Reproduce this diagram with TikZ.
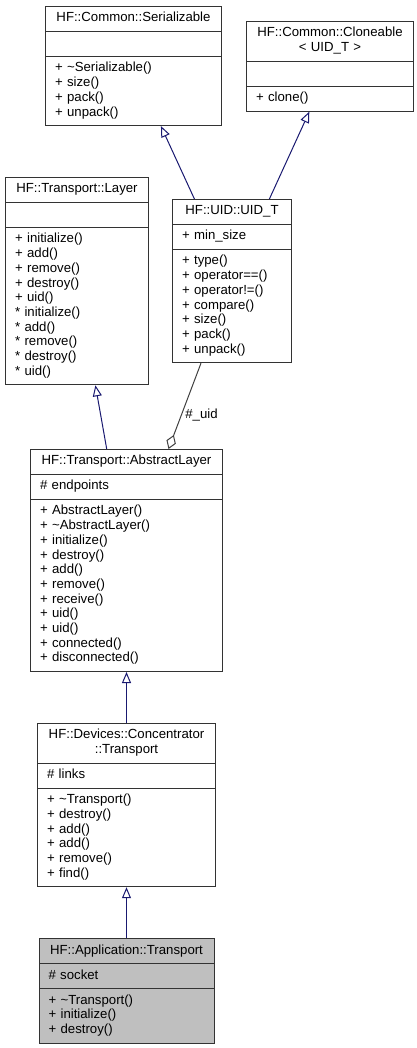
\documentclass[tikz,border=0pt]{standalone}
\usepackage{fontspec}
\setmainfont{Liberation Sans}
\usetikzlibrary{arrows.meta,positioning,shapes.multipart}

\definecolor{edgeblue}{HTML}{191970}
\definecolor{edgegray}{HTML}{404040}
\definecolor{selfgray}{HTML}{BFBFBF}

\begin{document}
\begin{tikzpicture}[x=1pt,y=1pt,>={Triangle[open,length=11pt,width=9pt]},
  font=\fontsize{13.2}{14.7}\selectfont,line width=1pt]
  \tikzstyle{class}=[rectangle split,rectangle split parts=3,draw=black!80,
    fill=white,inner xsep=9.5pt,inner ysep=4.65pt,align=left,anchor=north west]
  \tikzstyle{inherit}=[draw=edgeblue,->]
  \tikzstyle{aggr}=[draw=edgegray,-{Diamond[open,length=15pt,width=10pt]}]

  \useasboundingbox (0,0) rectangle (417,-1048);

  \node[class,text width=157pt] (ser) at (45,-6)
    {\centering\strut HF::Common::Serializable\par
     \nodepart{two}\strut
     \nodepart{three}\strut + \textasciitilde Serializable()\\
      \strut + size()\\ \strut + pack()\\ \strut + unpack()};
  \node[class,text width=148pt] (clone) at (246,-21)
    {\centering\strut HF::Common::Cloneable\\ \strut < UID\_T >\par
     \nodepart{two}\strut
     \nodepart{three}\strut + clone()};
  \node[class,text width=124pt] (layer) at (5,-177)
    {\centering\strut HF::Transport::Layer\par
     \nodepart{two}\strut
     \nodepart{three}\strut + initialize()\\ \strut + add()\\ \strut + remove()\\
      \strut + destroy()\\ \strut + uid()\\ \strut * initialize()\\ \strut * add()\\
      \strut * remove()\\ \strut * destroy()\\ \strut * uid()};
  \node[class,text width=100pt] (uid) at (172,-199)
    {\centering\strut HF::UID::UID\_T\par
     \nodepart{two}\strut + min\_size
     \nodepart{three}\strut + type()\\ \strut + operator==()\\ \strut + operator!=()\\
      \strut + compare()\\ \strut + size()\\ \strut + pack()\\ \strut + unpack()};
  \node[class,text width=173pt] (alayer) at (30,-449)
    {\centering\strut HF::Transport::AbstractLayer\par
     \nodepart{two}\strut \# endpoints
     \nodepart{three}\strut + AbstractLayer()\\ \strut + \textasciitilde AbstractLayer()\\
      \strut + initialize()\\ \strut + destroy()\\ \strut + add()\\ \strut + remove()\\
      \strut + receive()\\ \strut + uid()\\ \strut + uid()\\ \strut + connected()\\
      \strut + disconnected()};
  \node[class,text width=159pt,below=51pt of alayer] (conc)
    {\centering\strut HF::Devices::Concentrator\\ \strut ::Transport\par
     \nodepart{two}\strut \# links
     \nodepart{three}\strut + \textasciitilde Transport()\\ \strut + destroy()\\
      \strut + add()\\ \strut + add()\\ \strut + remove()\\ \strut + find()};
  \node[class,text width=156pt,fill=selfgray,below=51pt of conc] (app)
    {\centering\strut HF::Application::Transport\par
     \nodepart{two}\strut \# socket
     \nodepart{three}\strut + \textasciitilde Transport()\\ \strut + initialize()\\
      \strut + destroy()};

  \path (uid) edge[inherit] (ser)
        (uid) edge[inherit] (clone)
        (alayer) edge[inherit] (layer)
        (uid) edge[aggr] node[right,pos=0.6] {\#\_uid} (alayer)
        (conc) edge[inherit] (alayer)
        (app) edge[inherit] (conc);
\end{tikzpicture}
\end{document}
